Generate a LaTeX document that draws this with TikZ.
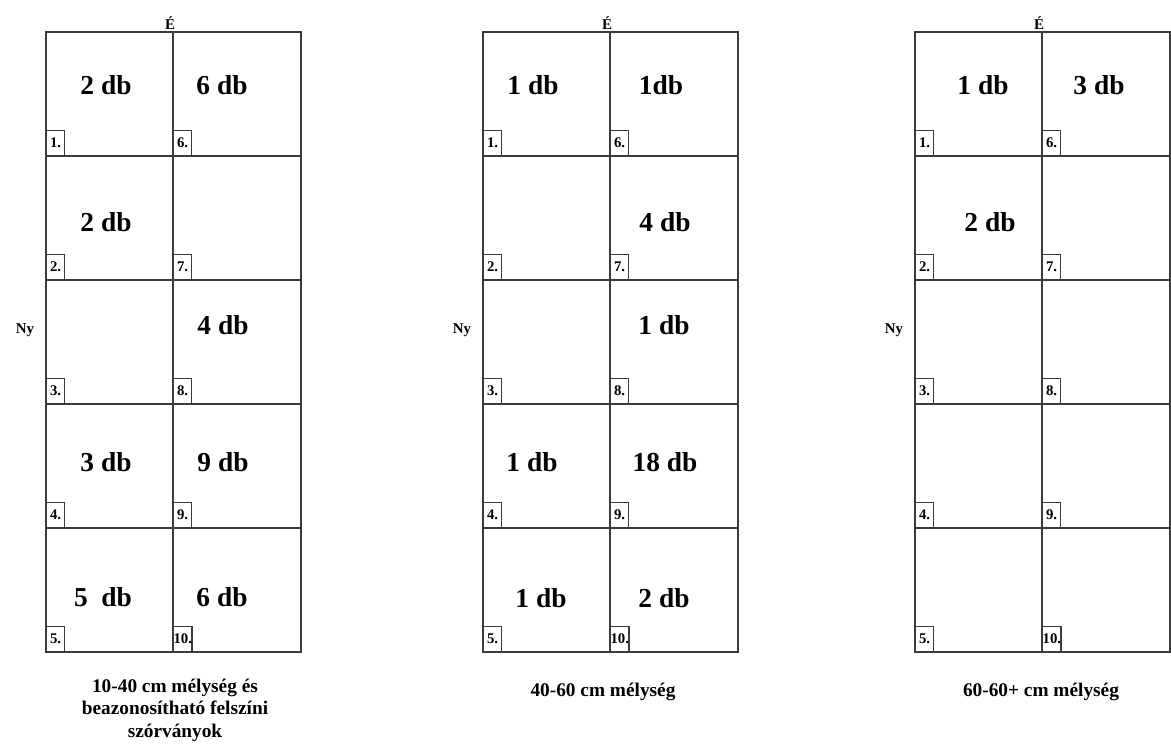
\documentclass[tikz,border=0pt]{standalone}
\usepackage{fontspec}
\setmainfont{Liberation Serif}
\usetikzlibrary{positioning}
\definecolor{GridGray}{RGB}{60,60,60}
\begin{document}
\begin{tikzpicture}[x=0.02cm, y=-0.02cm,
    grid/.style={draw=GridGray, line width=1pt},
    numbox/.style={draw=GridGray, line width=0.7pt, anchor=south west,
                   minimum width=0.36cm, inner xsep=0pt, inner ysep=0pt,
                   minimum height=0.5cm,
                   font=\fontsize{8.4}{9}\selectfont\bfseries},
    count/.style={font=\fontsize{15.6}{18}\selectfont\bfseries, inner sep=0pt},
    dirlabel/.style={font=\fontsize{8.5}{10}\selectfont\bfseries, inner sep=0pt},
    caption/.style={font=\fontsize{11}{12.8}\selectfont\bfseries, align=center,
                    inner sep=0pt}
  ]
  \useasboundingbox (0,0) rectangle (1171,745);

  % Three plots of 2 x 5 cells
  \foreach \gx/\g in {46/a, 483/b, 915/c} {
    \draw[grid] (\gx,32) rectangle ++(255,620);
    \draw[grid] (\gx+127,32) -- ++(0,620);
    \foreach \r in {1,...,4}
      \draw[grid] (\gx,32+124*\r) -- ++(255,0);
    \foreach \r in {1,...,5} {
      \pgfmathtruncatemacro{\rr}{\r+5}
      \node[numbox] (\g-n\r) at (\gx,32+124*\r) {\r.};
      \node[numbox] (\g-n\rr) at (\gx+127,32+124*\r) {\rr.};
    }
    \node[dirlabel, anchor=base] (\g-north) at (\gx+124,29) {É};
    \node[dirlabel] (\g-west) at (\gx-21,330) {Ny};
  }

  % 10-40 cm
  \node[count] (a-c1) at (106,85) {2 db};
  \node[count] (a-c6) at (222,85) {6 db};
  \node[count] (a-c2) at (106,222) {2 db};
  \node[count] (a-c8) at (223,325) {4 db};
  \node[count] (a-c4) at (106,462) {3 db};
  \node[count] (a-c9) at (223,462) {9 db};
  \node[count] (a-c5) at (103,597) {5\ \ db};
  \node[count] (a-c10) at (222,597) {6 db};
  \node[caption] (a-cap) at (175,710)
    {10-40 cm mélység és\\beazonosítható felszíni\\szórványok};

  % 40-60 cm
  \node[count] (b-c1) at (533,85) {1 db};
  \node[count] (b-c6) at (661,85) {1db};
  \node[count] (b-c7) at (665,222) {4 db};
  \node[count] (b-c8) at (664,325) {1 db};
  \node[count] (b-c4) at (532,462) {1 db};
  \node[count] (b-c9) at (665,462) {18 db};
  \node[count] (b-c5) at (541,598) {1 db};
  \node[count] (b-c10) at (664,598) {2 db};
  \node[caption] (b-cap) at (603,692) {40-60 cm mélység};

  % 60-60+ cm
  \node[count] (c-c1) at (983,85) {1 db};
  \node[count] (c-c6) at (1099,85) {3 db};
  \node[count] (c-c2) at (990,222) {2 db};
  \node[caption] (c-cap) at (1041,692) {60-60+ cm mélység};
\end{tikzpicture}
\end{document}
